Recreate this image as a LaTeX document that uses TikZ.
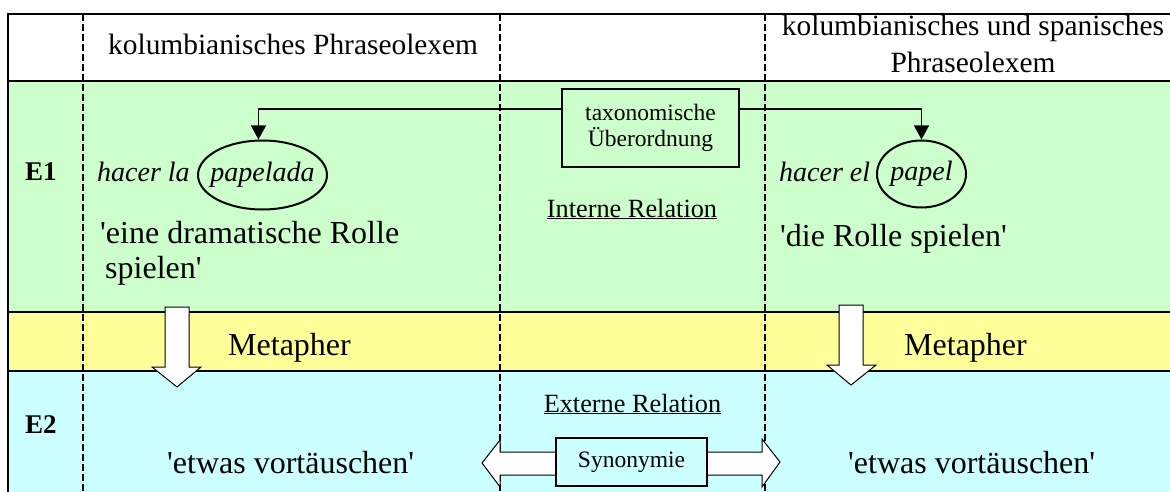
\documentclass[tikz,border=0pt]{standalone}
\usepackage{fontspec}
\setmainfont{Liberation Serif}
\usetikzlibrary{arrows.meta,shapes.geometric}

\definecolor{rowgreen}{HTML}{CCFFCC}
\definecolor{rowyellow}{HTML}{FFFF99}
\definecolor{rowcyan}{HTML}{CCFFFF}

\tikzset{
  rule/.style={line width=1.6pt},
  divider/.style={line width=1.4pt, dash pattern=on 7pt off 3pt},
  blockarrow/.style={fill=white, draw=black, line width=1pt, line join=miter},
  hdrtext/.style={font=\fontsize{29.4}{34}\selectfont, inner sep=0pt},
  rowlabel/.style={font=\fontsize{27}{32}\selectfont\bfseries, inner sep=0pt, anchor=base west},
  bigtext/.style={font=\fontsize{32}{37}\selectfont, inner sep=0pt, anchor=base west},
  itext/.style={font=\fontsize{28}{37}\selectfont\itshape, inner sep=0pt, anchor=base west},
  wordring/.style={ellipse, draw, line width=2pt, inner sep=0pt,
                   font=\fontsize{28}{37}\selectfont\itshape},
  relbox/.style={draw, line width=2.3pt, inner sep=0pt, align=center,
                 font=\fontsize{23.5}{26}\selectfont},
  reltitle/.style={font=\fontsize{26.3}{30}\selectfont, inner sep=0pt, anchor=base},
  pointer/.style={line width=1.3pt, -{Triangle[width=15pt,length=14pt]}},
}

\newcommand{\sq}{\textquotesingle}

\begin{document}
\begin{tikzpicture}[x=1pt,y=-1pt]
\useasboundingbox (0,0) rectangle (1170,492);
\clip (0,0) rectangle (1170,492);

% row backgrounds
\fill[white]      (8,14)  rectangle (1170,81);
\fill[rowgreen]   (8,81)  rectangle (1170,312);
\fill[rowyellow]  (8,312) rectangle (1170,371);
\fill[rowcyan]    (8,371) rectangle (1170,492);

% column dividers
\draw[divider] (83,14)  -- (83,492);
\draw[divider] (500,14) -- (500,492);
\draw[divider] (765,14) -- (765,492);

% table rules
\draw[rule] (1170,14) -- (8,14) -- (8,492);
\draw[rule] (8,81)  -- (1170,81);
\draw[rule] (8,312) -- (1170,312);
\draw[rule] (8,371) -- (1170,371);

% header
\node[hdrtext, anchor=base west] (hdrL) at (108,55) {kolumbianisches Phraseolexem};
\node[hdrtext, anchor=base] (hdrR1) at (973,36) {kolumbianisches und spanisches};
\node[hdrtext, anchor=base] (hdrR2) at (973,73) {Phraseolexem};

% row labels
\node[rowlabel] (e1) at (25,180) {E1};
\node[rowlabel] (e2) at (25,433) {E2};

% E1 row: the two phraseolexemes (ring size fixed, word centred in it)
\node[itext] (hacerla) at (97,182) {hacer la};
\node[wordring, minimum width=129pt, minimum height=69pt] (pa) at (262.5,175)
  {\makebox[0pt]{papelada}};
\node[bigtext] (glossL1) at (100,243) {\sq eine dramatische Rolle};
\node[bigtext] (glossL2) at (105,278) {spielen\sq};

\node[itext] (hacerel) at (779,182) {hacer el};
\node[wordring, minimum width=89pt, minimum height=67pt] (pe) at (921.5,174)
  {\makebox[0pt]{papel}};
\node[bigtext] (glossR) at (780,246) {\sq die Rolle spielen\sq};

% internal relation
\node[relbox, minimum width=177pt, minimum height=78pt, fill=rowgreen] (tax) at (650.5,128)
  {taxonomische\\Überordnung};
\node[reltitle] (intern) at (632,217) {\underline{Interne Relation}};
\draw[pointer] ([yshift=19pt]tax.west) -| ([xshift=-4pt]pa.north);
\draw[pointer] ([yshift=19pt]tax.east) -| (pe.north);

% metaphor step
\node[bigtext, anchor=base] (metL) at (289.5,355) {Metapher};
\node[bigtext, anchor=base] (metR) at (965.5,355) {Metapher};
\draw[blockarrow] (165,307) -- (189,307) -- (189,367) -- (201,367) -- (177,387)
  -- (152,367) -- (165,367) -- cycle;
\draw[blockarrow] (839,305) -- (863,305) -- (863,365) -- (876,365) -- (851,385)
  -- (827,365) -- (839,365) -- cycle;

% E2 row
\node[reltitle] (extern) at (632.5,412) {\underline{Externe Relation}};
\draw[blockarrow] (482,463) -- (500,440) -- (500,452) -- (762,452) -- (762,439)
  -- (780,462) -- (762,487) -- (762,475) -- (500,475) -- (500,487) -- cycle;
\node[relbox, line width=2.1pt, minimum width=151pt, minimum height=48pt, fill=rowcyan] (syn)
  at (631.5,462) {Synonymie};
\node[bigtext] (etwasL) at (167,473) {\sq etwas vortäuschen\sq};
\node[bigtext] (etwasR) at (848,473) {\sq etwas vortäuschen\sq};
\end{tikzpicture}
\end{document}
